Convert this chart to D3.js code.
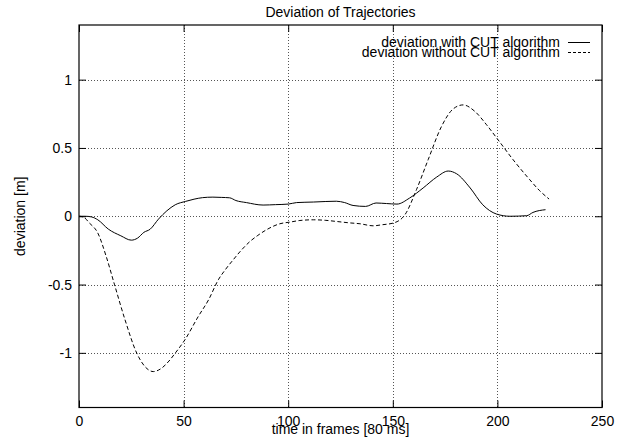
<!DOCTYPE html>
<html><head><meta charset="utf-8">
<script src="https://cdn.jsdelivr.net/npm/d3@7"></script>
<style>body{margin:0;background:#fff}svg{display:block}text{font-family:"Liberation Sans",Arial,sans-serif;fill:#000}</style>
</head><body><svg id="c" width="638" height="442"></svg>
<script>
const title = "Deviation of Trajectories";
const xLabel = "time in frames [80 ms]";
const yLabel = "deviation [m]";
const seriesNames = ["deviation with CUT algorithm", "deviation without CUT algorithm"];
const xTicks = [0, 50, 100, 150, 200, 250];
const yTicks = [-1, -0.5, 0, 0.5, 1];
const withCutT = [0,3,6,9,14,20,25,28,31,34,38,42,46,51,55,59,64,68,72,75,80,88,94,100,104,112,118,123,127,131,137,142,147,152,158,164.5,171,176.5,180.5,187,193,199.6,206,214,217,223];
const withCutV = [0,0,-0.005,-0.026,-0.094,-0.143,-0.175,-0.16,-0.118,-0.095,-0.021,0.04,0.084,0.109,0.125,0.136,0.14,0.138,0.135,0.115,0.1,0.082,0.085,0.089,0.1,0.104,0.108,0.11,0.1,0.079,0.072,0.097,0.093,0.089,0.133,0.207,0.287,0.331,0.311,0.207,0.084,0.016,0,0.004,0.028,0.048];
const withoutCutT = [0,2,5,9,13,17,22,27.6,31.5,35.5,39.5,43,46,50.6,57,62,66.6,70,73.7,77.5,81.7,85.5,89.6,96,100.8,105.6,112,118,123,129,134.3,140.6,145,150.2,155.8,161.3,166.9,173.3,178.8,183.6,189.2,194.8,200.3,207.5,215.5,220,224.7];
const withoutCutV = [0,-0.005,-0.05,-0.123,-0.294,-0.502,-0.758,-1.002,-1.1,-1.137,-1.112,-1.06,-1.002,-0.905,-0.734,-0.61,-0.465,-0.39,-0.319,-0.25,-0.185,-0.14,-0.099,-0.055,-0.043,-0.031,-0.026,-0.03,-0.038,-0.048,-0.055,-0.07,-0.062,-0.05,0.011,0.194,0.414,0.658,0.785,0.815,0.768,0.67,0.56,0.414,0.267,0.19,0.126];

const L = 79, R = 602, T = 25, B = 407.5;
const svg = d3.select("#c");
const x = d3.scaleLinear().domain([0, 250]).range([L, R]);
const y = d3.scaleLinear().domain([-1.4, 1.4]).range([B, T]);
const fs = 14;

// grid
const grid = svg.append("g").attr("stroke", "#555").attr("stroke-width", 1).attr("stroke-dasharray", "1,2");
grid.selectAll(".gx").data(xTicks.filter(d => d > 0 && d < 250)).join("line")
  .attr("x1", d => Math.round(x(d)) + 0.5).attr("x2", d => Math.round(x(d)) + 0.5).attr("y1", T).attr("y2", B);
grid.selectAll(".gy").data(yTicks).join("line")
  .attr("y1", d => Math.round(y(d)) + 0.5).attr("y2", d => Math.round(y(d)) + 0.5).attr("x1", L).attr("x2", R);

// axes (ticks inward, labels)
const ax = svg.append("g").attr("transform", `translate(0,${B})`)
  .call(d3.axisBottom(x).tickValues(xTicks).tickSize(-7).tickPadding(9).tickFormat(d => String(d)));
const axT = svg.append("g").attr("transform", `translate(0,${T})`)
  .call(d3.axisTop(x).tickValues(xTicks).tickSize(-7).tickFormat(""));
const ay = svg.append("g").attr("transform", `translate(${L},0)`)
  .call(d3.axisLeft(y).tickValues(yTicks).tickSize(-7).tickPadding(7).tickFormat(d => String(d)));
const ayR = svg.append("g").attr("transform", `translate(${R},0)`)
  .call(d3.axisRight(y).tickValues(yTicks).tickSize(-7).tickFormat(""));
[ax, axT, ay, ayR].forEach(g => {
  g.select(".domain").remove();
  g.selectAll(".tick line").attr("stroke", "#000");
  g.selectAll("text").attr("font-size", fs).attr("font-family", "Liberation Sans, Arial, sans-serif").attr("fill", "#000");
});
ax.selectAll("text").attr("dy", "0.71em");

// border
svg.append("rect").attr("x", L).attr("y", T).attr("width", R - L).attr("height", B - T)
  .attr("fill", "none").attr("stroke", "#000").attr("stroke-width", 1.2);

// lines
const mk = (ts, vs) => ts.map((t, i) => [t, vs[i]]);
const line = d3.line().x(d => x(d[0])).y(d => y(d[1])).curve(d3.curveMonotoneX);
svg.append("path").datum(mk(withCutT, withCutV)).attr("d", line)
  .attr("fill", "none").attr("stroke", "#000").attr("stroke-width", 1);
svg.append("path").datum(mk(withoutCutT, withoutCutV)).attr("d", line)
  .attr("fill", "none").attr("stroke", "#000").attr("stroke-width", 1).attr("stroke-dasharray", "4,2.5");

// legend
const leg = svg.append("g");
const legY = [46.5, 56.5];
seriesNames.forEach((n, i) => {
  leg.append("text").attr("x", 560).attr("y", legY[i]).attr("text-anchor", "end").attr("font-size", fs).text(n);
  leg.append("line").attr("x1", 568).attr("x2", 590).attr("y1", legY[i] - 4).attr("y2", legY[i] - 4)
    .attr("stroke", "#000").attr("stroke-width", 1).attr("stroke-dasharray", i ? "3,2" : null);
});

// title & labels
svg.append("text").attr("x", (L + R) / 2).attr("y", 17).attr("text-anchor", "middle").attr("font-size", fs).text(title);
svg.append("text").attr("x", (L + R) / 2).attr("y", 434).attr("text-anchor", "middle").attr("font-size", fs).text(xLabel);
svg.append("text").attr("transform", `translate(25,${y(0)}) rotate(-90)`).attr("text-anchor", "middle").attr("font-size", fs).text(yLabel);
</script></body></html>
